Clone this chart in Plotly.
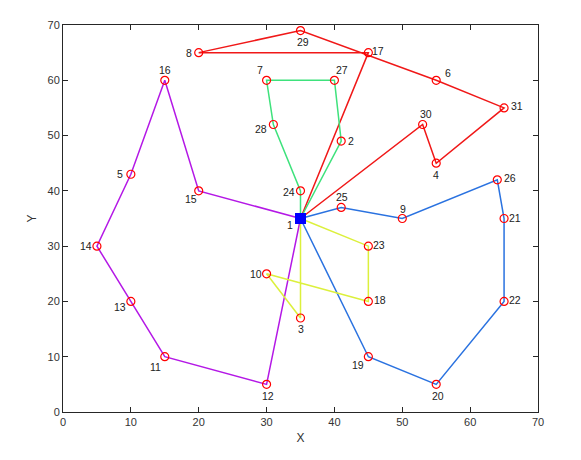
import plotly.graph_objects as go

# ---- data ----
node_ids = list(range(1, 32))
node_x = [35, 41, 35, 55, 10, 55, 30, 20, 50, 30, 15, 30, 10, 5, 20, 15, 45, 45, 45, 55, 65, 65, 45, 35, 41, 64, 40, 31, 35, 53, 65]
node_y = [35, 49, 17, 45, 43, 60, 60, 65, 35, 25, 10, 5, 20, 30, 40, 60, 65, 20, 10, 5, 35, 20, 30, 40, 37, 42, 60, 52, 69, 52, 55]

route_red = [1, 17, 8, 29, 6, 31, 4, 30, 1]
route_green = [1, 24, 28, 7, 27, 2, 1]
route_magenta = [1, 15, 16, 5, 14, 13, 11, 12, 1]
route_blue = [1, 25, 9, 26, 21, 22, 20, 19, 1]
route_yellow = [1, 23, 18, 10, 3, 1]

x_ticks = [0, 10, 20, 30, 40, 50, 60, 70]
y_ticks = [0, 10, 20, 30, 40, 50, 60, 70]

# ---- styles ----
route_colors = {
    "red": "#f01818",
    "green": "#3ee27c",
    "magenta": "#b418e6",
    "blue": "#2a72e0",
    "yellow": "#dcf03c",
}
# label offsets in pixels (dx right, dy down) relative to node marker
label_offset = {
    1: (-11, 6), 2: (10, 0), 3: (0, 11), 4: (0, 12), 5: (-11, 0), 6: (12, -7),
    7: (-7, -10), 8: (-10, 0), 9: (1, -10), 10: (-11, 0), 11: (-9, 10), 12: (1, 12),
    13: (-11, 6), 14: (-11, 0), 15: (-8, 8), 16: (0, -10), 17: (10, -2), 18: (12, -1),
    19: (-10, 8), 20: (2, 12), 21: (11, -1), 22: (11, -1), 23: (11, -1), 24: (-12, 1),
    25: (1, -10), 26: (13, -2), 27: (8, -10), 28: (-12, 4), 29: (2, 11), 30: (3, -11),
    31: (13, -2),
}

pos = {n: (x, y) for n, x, y in zip(node_ids, node_x, node_y)}

fig = go.Figure()
for name, route in [("red", route_red), ("green", route_green), ("magenta", route_magenta),
                    ("blue", route_blue), ("yellow", route_yellow)]:
    fig.add_trace(go.Scatter(
        x=[pos[n][0] for n in route], y=[pos[n][1] for n in route],
        mode="lines", line=dict(color=route_colors[name], width=1.5),
        showlegend=False, hoverinfo="skip"))

fig.add_trace(go.Scatter(
    x=node_x[1:], y=node_y[1:], mode="markers",
    marker=dict(symbol="circle-open", size=8, color="#ff0000", line=dict(width=1.2)),
    showlegend=False))
fig.add_trace(go.Scatter(
    x=[node_x[0]], y=[node_y[0]], mode="markers",
    marker=dict(symbol="square", size=11, color="#0000ff"),
    showlegend=False))

for n, x, y in zip(node_ids, node_x, node_y):
    dx, dy = label_offset[n]
    fig.add_annotation(x=x, y=y, text=str(n), showarrow=False,
                       xshift=dx, yshift=-dy, xanchor="center", yanchor="middle",
                       font=dict(family="Liberation Sans, Arial", size=10.5, color="#222222"))

axis_common = dict(
    showgrid=False, zeroline=False, showline=True, linecolor="#262626", linewidth=1,
    mirror="ticks", ticks="inside", ticklen=5, tickcolor="#262626",
    tickfont=dict(family="Liberation Sans, Arial", size=11, color="#333333"),
)
fig.update_xaxes(range=[0, 70], tickvals=x_ticks, title=dict(text="X", standoff=6,
                 font=dict(family="Liberation Sans, Arial", size=12, color="#333333")), **axis_common)
fig.update_yaxes(range=[0, 70], tickvals=y_ticks, title=dict(text="Y", standoff=8,
                 font=dict(family="Liberation Sans, Arial", size=12, color="#333333")), **axis_common)

fig.update_layout(
    width=581, height=460,
    margin=dict(l=55, r=51, t=17, b=56),
    plot_bgcolor="white", paper_bgcolor="white",
)

fig.write_html("out.html")
